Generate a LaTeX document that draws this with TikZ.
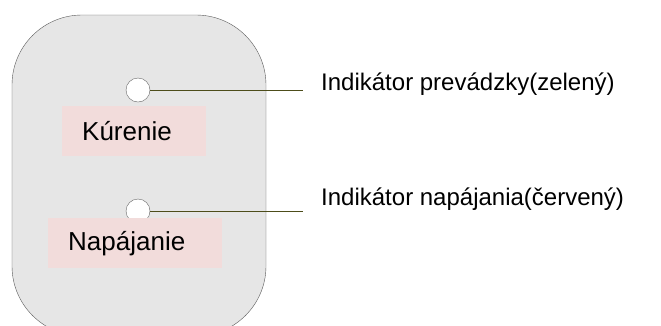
\documentclass[tikz,border=0pt]{standalone}
\usepackage{fontspec}
\setmainfont{Liberation Sans}

\definecolor{panelgray}{HTML}{E6E6E6}
\definecolor{tagpink}{HTML}{F2DCDB}
\definecolor{leadolive}{HTML}{4D4D1A}

\tikzset{
    led/.style={circle, draw=black!60, fill=white, minimum size=24pt, inner sep=0pt},
    tagbox/.style={fill=tagpink, minimum height=50pt, inner sep=0pt},
    tagtext/.style={anchor=base west, inner sep=0pt, font=\fontsize{26}{30}\selectfont},
    lead/.style={draw=leadolive, line width=1pt},
    callout/.style={anchor=base west, inner sep=0pt, font=\fontsize{24}{28}\selectfont}
}

\begin{document}
\begin{tikzpicture}[x=1pt, y=-1pt]
    \useasboundingbox (0, 0) rectangle (661, 325);
    \clip (0, 0) rectangle (661, 325);
    % housing
    \draw[draw=black!65, fill=panelgray, rounded corners=70pt] (12, 15) rectangle (266, 336);

    % indicator lamps
    \node[led] (ledrun) at (138, 90) {};
    \node[led] (ledpow) at (138, 211) {};
    \coordinate (endrun) at (303, 90);
    \coordinate (endpow) at (303, 211);
    \draw[lead] (ledrun.east) -- (endrun);
    \draw[lead] (ledpow.east) -- (endpow);

    % key labels
    \node[tagbox, minimum width=144pt] (boxrun) at (134, 131) {};
    \node[tagbox, minimum width=174pt] (boxpow) at (135, 243) {};
    \node[tagtext] (heat) at (82, 140) {Kúrenie};
    \node[tagtext] (power) at (68, 250) {Napájanie};

    % callouts
    \node[callout] (lblrun) at (321, 90) {Indikátor prevádzky(zelený)};
    \node[callout] (lblpow) at (321, 205) {Indikátor napájania(červený)};
\end{tikzpicture}
\end{document}
